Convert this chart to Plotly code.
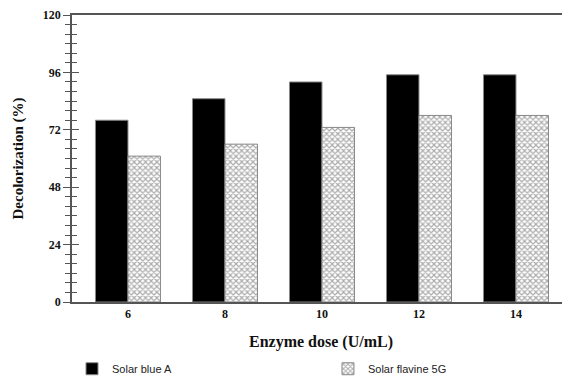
import plotly.graph_objects as go

doses = ["6", "8", "10", "12", "14"]
solar_blue_a = [76, 85, 92, 95, 95]
solar_flavine_5g = [61, 66, 73, 78, 78]
y_ticks = [0, 24, 48, 72, 96, 120]

xpos = list(range(len(doses)))
serif = "Liberation Serif"

fig = go.Figure()
fig.add_trace(go.Bar(
    x=xpos, y=solar_blue_a, name="Solar blue A", legend="legend",
    marker=dict(color="black", line=dict(color="#888", width=1)),
))
fig.add_trace(go.Bar(
    x=xpos, y=solar_flavine_5g, name="Solar flavine 5G", legend="legend2",
    marker=dict(color="white", line=dict(color="#888", width=1),
                pattern=dict(shape="x", fgcolor="#555", bgcolor="white", size=4, solidity=0.5)),
))

legend_font = dict(family="Liberation Sans", size=11, color="#222")

# page adds an 8px body margin, so the figure is 8px smaller and offsets are reduced
fig.update_layout(
    width=562, height=373,
    margin=dict(l=64, r=0, t=7, b=79, autoexpand=False),
    paper_bgcolor="white", plot_bgcolor="white",
    barmode="group", bargap=0.33, bargroupgap=0,
    showlegend=True,
    legend=dict(orientation="h", x=0.0, xanchor="left", y=-0.182, yanchor="top", font=legend_font),
    legend2=dict(orientation="h", x=0.514, xanchor="left", y=-0.182, yanchor="top", font=legend_font),
    xaxis=dict(
        range=[-0.577, 4.557], tickvals=xpos, ticktext=[f"<b>{d}</b>" for d in doses],
        showline=True, linecolor="#555", linewidth=1.5, mirror=True,
        ticks="", showgrid=False, zeroline=False,
        tickfont=dict(family=serif, size=12, color="#111"),
        title=dict(text="<b>Enzyme dose (U/mL)</b>", font=dict(family=serif, size=16, color="#111"), standoff=16),
    ),
    yaxis=dict(
        range=[0, 120], tickvals=y_ticks, ticktext=[f"<b>{v}</b>" for v in y_ticks],
        showline=True, linecolor="#555", linewidth=1.5,
        ticks="outside", ticklen=7, tickwidth=1, tickcolor="#555",
        minor=dict(dtick=4, ticks="outside", ticklen=5, tickcolor="#555", tickwidth=1),
        showgrid=False, zeroline=False,
        tickfont=dict(family=serif, size=12, color="#111"),
        title=dict(text="<b>Decolorization (%)</b>", font=dict(family=serif, size=15, color="#111"), standoff=16),
    ),
    yaxis2=dict(
        range=[0, 120], tickvals=y_ticks, overlaying="y", side="left", anchor="x",
        showticklabels=False, ticks="inside", ticklen=7, tickwidth=1, tickcolor="#555",
        minor=dict(dtick=4, ticks="inside", ticklen=5, tickcolor="#555", tickwidth=1),
        showgrid=False, zeroline=False, showline=False,
    ),
)
# invisible trace to attach yaxis2
fig.add_trace(go.Scatter(x=[xpos[0]], y=[y_ticks[0]], yaxis="y2", mode="markers",
                         marker=dict(opacity=0), showlegend=False, hoverinfo="skip"))

fig.write_html("out.html")
